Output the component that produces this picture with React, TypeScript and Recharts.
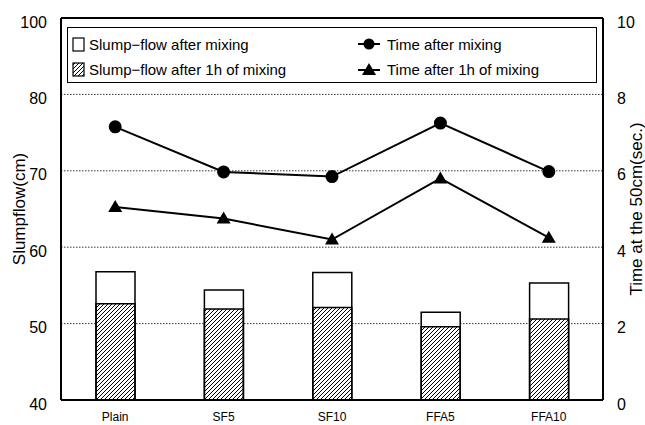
import React from 'react';
import { ComposedChart, Bar, Line, XAxis, YAxis, CartesianGrid, ReferenceLine } from 'recharts';

const mixes = ['Plain', 'SF5', 'SF10', 'FFA5', 'FFA10'];
const flowAfterMixing = [56.8, 54.4, 56.7, 51.5, 55.3];
const flowAfter1h = [52.6, 51.9, 52.1, 49.6, 50.6];
const timeAfterMixing = [7.15, 5.97, 5.85, 7.25, 5.98];
const timeAfter1h = [5.05, 4.75, 4.2, 5.8, 4.25];

const leftTicks = [40, 50, 60, 70, 80, 90];
const leftTickLabels = ['40', '50', '60', '70', '80', '100'];
const rightTicks = [0, 2, 4, 6, 8, 10];

const data = mixes.map((name, i) => ({
  name,
  flowMix: flowAfterMixing[i],
  flow1h: flowAfter1h[i],
  timeMix: timeAfterMixing[i],
  time1h: timeAfter1h[i],
}));

const font = '"Liberation Sans", Arial, sans-serif';

const Triangle = (props: any) => {
  const { cx, cy } = props;
  if (cx == null || cy == null) return null;
  return <path d={`M${cx},${cy - 7} L${cx + 7},${cy + 5} L${cx - 7},${cy + 5} Z`} fill="#000" />;
};

const LegendBox = () => (
  <svg width={530} height={56} style={{ position: 'absolute', left: 67, top: 27 }}>
    <defs>
      <pattern id="hatchLeg" patternUnits="userSpaceOnUse" width={4} height={4}>
        <path d="M-1,1 L1,-1 M0,4 L4,0 M3,5 L5,3" stroke="#000" strokeWidth={1} />
      </pattern>
    </defs>
    <rect x={0.5} y={0.5} width={529} height={55} fill="#fff" stroke="#000" strokeWidth={1} />
    <rect x={6} y={11} width={11} height={13} fill="#fff" stroke="#000" strokeWidth={1.2} />
    <text x={22} y={23} fontSize={15} fontFamily={font}>Slump−flow after mixing</text>
    <rect x={6} y={36} width={11} height={13} fill="url(#hatchLeg)" stroke="#000" strokeWidth={1.2} />
    <text x={22} y={48} fontSize={15} fontFamily={font}>Slump−flow after 1h of mixing</text>
    <line x1={291} y1={17} x2={313} y2={17} stroke="#000" strokeWidth={2} />
    <circle cx={302} cy={17} r={5.5} fill="#000" />
    <text x={320} y={23} fontSize={15} fontFamily={font}>Time after mixing</text>
    <line x1={291} y1={43} x2={313} y2={43} stroke="#000" strokeWidth={2} />
    <path d="M302,36 L309,48 L295,48 Z" fill="#000" />
    <text x={320} y={48} fontSize={15} fontFamily={font}>Time after 1h of mixing</text>
  </svg>
);

export default function App() {
  return (
    <div style={{ position: 'absolute', left: 0, top: 0, width: 645, height: 425, background: '#fff' }}>
      <ComposedChart
        width={645}
        height={425}
        data={data}
        margin={{ top: 18, right: 0, left: 0, bottom: 0 }}
        barSize={39}
        barGap={-39}
      >
        <defs>
          <pattern id="hatch" patternUnits="userSpaceOnUse" width={4} height={4}>
            <path d="M-1,1 L1,-1 M0,4 L4,0 M3,5 L5,3" stroke="#000" strokeWidth={1} />
          </pattern>
        </defs>
        <CartesianGrid
          yAxisId="left"
          vertical={false}
          stroke="#000"
          strokeWidth={0.8}
          strokeDasharray="1.5 1.5"
        />
        <XAxis
          dataKey="name"
          height={25}
          axisLine={{ stroke: '#000', strokeWidth: 2 }}
          tickLine={false}
          tick={{ fill: '#000', fontSize: 12, fontFamily: '"Liberation Sans Narrow", "Liberation Sans", Arial, sans-serif' }}
          tickMargin={6}
        />
        <YAxis
          yAxisId="left"
          width={61}
          domain={[40, 90]}
          ticks={leftTicks}
          interval={0}
          tickFormatter={(v: number) => leftTickLabels[leftTicks.indexOf(v)]}
          axisLine={{ stroke: '#000', strokeWidth: 2 }}
          tickLine={false}
          tick={{ fill: '#000', fontSize: 16, fontFamily: font, dy: 4 }}
          tickMargin={8}
          label={{ value: 'Slumpflow(cm)', angle: -90, position: 'center', dx: -12, style: { fontSize: 17, fontFamily: font, fill: '#000', textAnchor: 'middle' } }}
        />
        <YAxis
          yAxisId="right"
          orientation="right"
          width={42}
          domain={[0, 10]}
          ticks={rightTicks}
          interval={0}
          axisLine={{ stroke: '#000', strokeWidth: 2 }}
          tickLine={false}
          tick={{ fill: '#000', fontSize: 16, fontFamily: font, dy: 4 }}
          tickMargin={8}
          label={{ value: 'Time at the 50cm(sec.)', angle: -90, position: 'center', dx: 12, style: { fontSize: 17, fontFamily: font, fill: '#000', textAnchor: 'middle' } }}
        />
        <ReferenceLine yAxisId="left" y={90} stroke="#000" strokeWidth={2} />
        <Bar yAxisId="left" dataKey="flowMix" name="Slump-flow after mixing" fill="#fff" stroke="#000" strokeWidth={1.5} isAnimationActive={false} />
        <Bar yAxisId="left" dataKey="flow1h" name="Slump-flow after 1h of mixing" fill="url(#hatch)" stroke="#000" strokeWidth={1.5} isAnimationActive={false} />
        <Line
          yAxisId="right"
          dataKey="timeMix"
          name="Time after mixing"
          stroke="#000"
          strokeWidth={2}
          dot={{ r: 5.5, fill: '#000', stroke: '#000' }}
          isAnimationActive={false}
        />
        <Line
          yAxisId="right"
          dataKey="time1h"
          name="Time after 1h of mixing"
          stroke="#000"
          strokeWidth={2}
          dot={<Triangle />}
          isAnimationActive={false}
        />
      </ComposedChart>
      <LegendBox />
    </div>
  );
}
